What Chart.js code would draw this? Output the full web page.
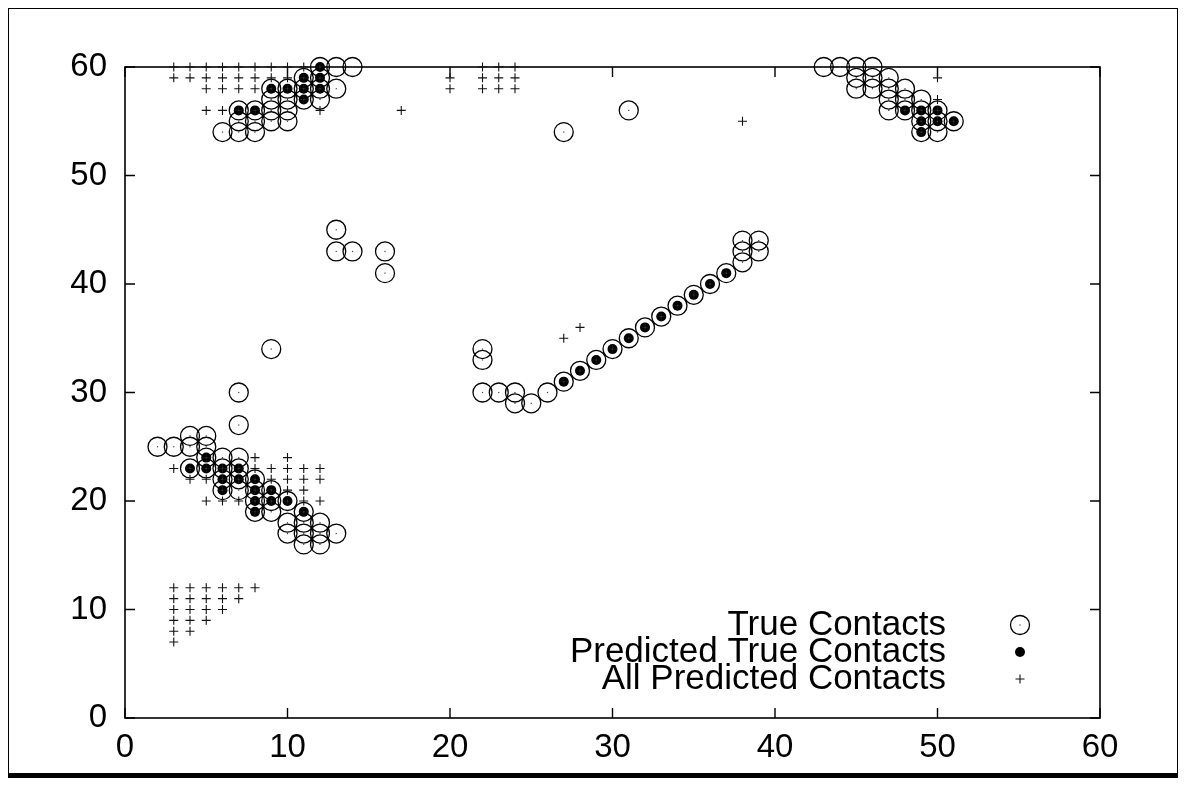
<!DOCTYPE html>
<html>
<head>
<meta charset="utf-8">
<script src="https://cdn.jsdelivr.net/npm/chart.js@4.4.0/dist/chart.umd.min.js"></script>
<style>
  html, body { margin: 0; padding: 0; background: #fff; }
  #wrap { width: 1185px; height: 799px; }
</style>
</head>
<body>
<div id="wrap"><canvas id="contactChart" width="1185" height="799"></canvas></div>
<script>
// axis ticks
const xTicks = [0, 10, 20, 30, 40, 50, 60];
const yTicks = [0, 10, 20, 30, 40, 50, 60];

const seriesLabels = ['True Contacts', 'Predicted True Contacts', 'All Predicted Contacts'];

// residue pairs [i, j]
const trueContacts = [
  [6,54],[7,54],[8,54],[7,55],[8,55],[9,55],[10,55],[7,56],[8,56],[9,56],[10,56],
  [9,57],[10,57],[11,57],[12,57],[9,58],[10,58],[11,58],[12,58],[13,58],
  [11,59],[12,59],[12,60],[13,60],[14,60],
  [27,54],[31,56],
  [13,45],[13,43],[14,43],[16,43],[16,41],[9,34],[7,30],[7,27],
  [2,25],[3,25],[4,26],[5,26],[4,25],[5,25],[5,24],[6,24],[7,24],
  [4,23],[5,23],[6,23],[7,23],[6,22],[7,22],[8,22],[6,21],[7,21],[8,21],[9,21],
  [8,20],[9,20],[10,20],[8,19],[9,19],[11,19],[10,18],[11,18],[12,18],
  [10,17],[11,17],[12,17],[13,17],[11,16],[12,16],
  [22,34],[22,33],[22,30],[23,30],[24,30],[24,29],[25,29],[26,30],
  [27,31],[28,32],[29,33],[30,34],[31,35],[32,36],[33,37],[34,38],[35,39],[36,40],[37,41],
  [38,42],[38,43],[38,44],[39,43],[39,44],
  [43,60],[44,60],[45,60],[46,60],[45,59],[46,59],[47,59],
  [45,58],[46,58],[47,58],[48,58],[47,57],[48,57],[49,57],
  [47,56],[48,56],[49,56],[50,56],[49,55],[50,55],[51,55],[49,54],[50,54]
];

const predictedTrue = [
  [12,60],[11,59],[12,59],[9,58],[10,58],[11,58],[12,58],[11,57],[7,56],[8,56],
  [5,24],[4,23],[5,23],[6,23],[7,23],[6,22],[7,22],[8,22],[6,21],[8,21],[9,21],
  [8,20],[9,20],[10,20],[8,19],[11,19],
  [27,31],[28,32],[29,33],[30,34],[31,35],[32,36],[33,37],[34,38],[35,39],[36,40],[37,41],
  [48,56],[49,56],[50,56],[49,55],[50,55],[51,55],[49,54]
];

// predicted but not true
const falsePredicted = [
  [3,60],[4,60],[5,60],[6,60],[7,60],[8,60],[9,60],[10,60],[11,60],
  [3,59],[4,59],[5,59],[6,59],[7,59],[8,59],[9,59],[10,59],
  [5,58],[6,58],[7,58],[8,58],
  [5,56],[6,56],[12,56],[17,56],
  [20,59],[20,58],
  [22,60],[23,60],[24,60],[22,59],[23,59],[24,59],[22,58],[23,58],[24,58],
  [38,55],[50,59],[50,57],
  [27,35],[28,36],
  [8,24],[10,24],
  [3,23],[8,23],[9,23],[10,23],[11,23],[12,23],
  [4,22],[5,22],[9,22],[10,22],[11,22],[12,22],
  [10,21],[11,21],
  [5,20],[6,20],[7,20],[11,20],[12,20],
  [3,12],[4,12],[5,12],[6,12],[7,12],[8,12],
  [3,11],[4,11],[5,11],[6,11],[7,11],
  [3,10],[4,10],[5,10],[6,10],
  [3,9],[4,9],[5,9],
  [3,8],[4,8],
  [3,7]
];

const allPredicted = predictedTrue.concat(falsePredicted);

const toPoints = pairs => pairs.map(p => ({ x: p[0], y: p[1] }));

const FONT = { family: "'Liberation Sans', Arial, Helvetica, sans-serif", size: 33 };
const KEY_FONT_SIZE = 35;

// page border, plot frame and inward tick marks
const frameTicks = {
  id: 'frameTicks',
  beforeDraw(chart) {
    const ctx = chart.ctx;
    ctx.save();
    ctx.fillStyle = '#fff';
    ctx.fillRect(0, 0, chart.width, chart.height);
    ctx.strokeStyle = '#000';
    ctx.lineWidth = 1;
    ctx.strokeRect(8.5, 8.5, 1169, 766);
    ctx.fillStyle = '#000';
    ctx.fillRect(8, 773, 1170, 5);
    ctx.restore();
  },
  beforeDatasetsDraw(chart) {
    const ctx = chart.ctx;
    const a = chart.chartArea;
    const xs = chart.scales.x, ys = chart.scales.y;
    ctx.save();
    ctx.strokeStyle = '#000';
    ctx.lineWidth = 1.6;
    ctx.strokeRect(a.left, a.top, a.right - a.left, a.bottom - a.top);
    ctx.lineWidth = 1.4;
    ctx.beginPath();
    xTicks.forEach(v => {
      const px = xs.getPixelForValue(v);
      ctx.moveTo(px, a.bottom); ctx.lineTo(px, a.bottom - 10);
      ctx.moveTo(px, a.top); ctx.lineTo(px, a.top + 10);
    });
    yTicks.forEach(v => {
      const py = ys.getPixelForValue(v);
      ctx.moveTo(a.left, py); ctx.lineTo(a.left + 10, py);
      ctx.moveTo(a.right, py); ctx.lineTo(a.right - 10, py);
    });
    ctx.stroke();
    ctx.restore();
  }
};

// small centre dot inside each true-contact ring + gnuplot style key
const gnuKey = {
  id: 'gnuKey',
  afterDatasetsDraw(chart) {
    const ctx = chart.ctx;
    ctx.save();
    ctx.fillStyle = '#444';
    chart.getDatasetMeta(0).data.forEach(pt => {
      ctx.fillRect(pt.x - 0.6, pt.y - 0.6, 1.2, 1.2);
    });

    ctx.font = KEY_FONT_SIZE + 'px ' + FONT.family;
    ctx.textAlign = 'right';
    ctx.textBaseline = 'middle';
    chart.data.datasets.forEach((ds, i) => {
      const y = 625 + i * 27;
      ctx.fillStyle = '#000';
      ctx.fillText(ds.label, 946, y);
      ctx.strokeStyle = ds.borderColor;
      ctx.fillStyle = ds.backgroundColor;
      ctx.lineWidth = ds.borderWidth;
      Chart.helpers.drawPoint(ctx, {
        pointStyle: ds.pointStyle, radius: ds.pointRadius, rotation: 0, borderWidth: ds.borderWidth
      }, 1020, y);
      if (i === 0) {
        ctx.fillStyle = '#444';
        ctx.fillRect(1020 - 0.6, y - 0.6, 1.2, 1.2);
      }
    });
    ctx.restore();
  }
};

new Chart(document.getElementById('contactChart'), {
  type: 'scatter',
  data: {
    datasets: [
      {
        label: seriesLabels[0],
        data: toPoints(trueContacts),
        pointStyle: 'circle',
        pointRadius: 9.5,
        borderColor: '#000',
        backgroundColor: 'rgba(0,0,0,0)',
        borderWidth: 1.3,
        clip: false,
        order: 3
      },
      {
        label: seriesLabels[1],
        data: toPoints(predictedTrue),
        pointStyle: 'circle',
        pointRadius: 5,
        borderColor: '#000',
        backgroundColor: '#000',
        borderWidth: 0,
        clip: false,
        order: 2
      },
      {
        label: seriesLabels[2],
        data: toPoints(allPredicted),
        pointStyle: 'cross',
        pointRadius: 4.5,
        borderColor: '#111',
        backgroundColor: '#111',
        borderWidth: 1.1,
        clip: false,
        order: 1
      }
    ]
  },
  options: {
    responsive: false,
    animation: false,
    devicePixelRatio: 1,
    layout: { padding: { left: 0, top: 67, right: 85, bottom: 0 } },
    plugins: { legend: { display: false }, tooltip: { enabled: false } },
    scales: {
      x: {
        type: 'linear',
        min: 0, max: 60,
        afterFit: s => { s.height = 81; },
        afterBuildTicks: s => { s.ticks = xTicks.map(v => ({ value: v })); },
        grid: { display: false, drawTicks: false },
        border: { display: false },
        ticks: { color: '#000', font: FONT, padding: 10, maxRotation: 0 }
      },
      y: {
        type: 'linear',
        min: 0, max: 60,
        afterFit: s => { s.width = 125; },
        afterBuildTicks: s => { s.ticks = yTicks.map(v => ({ value: v })); },
        grid: { display: false, drawTicks: false },
        border: { display: false },
        ticks: { color: '#000', font: FONT, padding: 18 }
      }
    }
  },
  plugins: [frameTicks, gnuKey]
});
</script>
</body>
</html>
